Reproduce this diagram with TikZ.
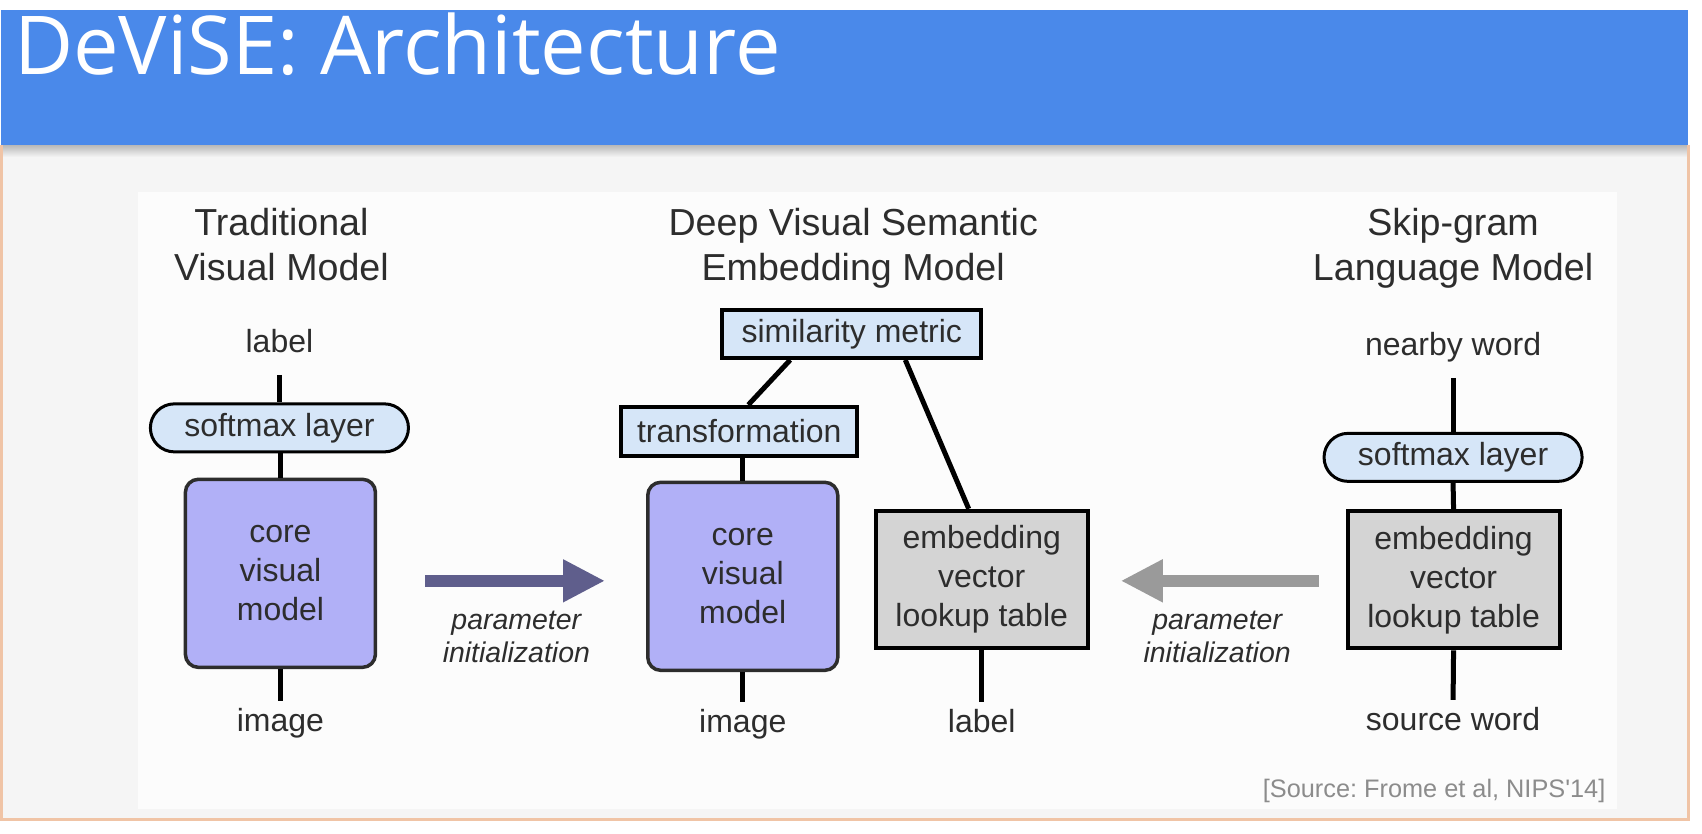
\documentclass[tikz,border=0pt]{standalone}
\usepackage{fontspec}
\setmainfont{Liberation Sans}
\newfontfamily\slidefont{Open Sans}
\usetikzlibrary{positioning, calc, arrows.meta}

\definecolor{barblue}{RGB}{74,137,234}
\definecolor{pageframe}{RGB}{240,196,166}
\definecolor{slidegray}{RGB}{245,245,245}
\definecolor{figwhite}{RGB}{252,252,252}
\definecolor{ink}{RGB}{45,45,45}
\definecolor{softblue}{RGB}{214,230,248}
\definecolor{corepurple}{RGB}{177,176,247}
\definecolor{tablegray}{RGB}{212,212,212}
\definecolor{initpurple}{RGB}{95,94,140}
\definecolor{initgray}{RGB}{154,154,154}

\newcommand{\nodesize}{\fontsize{9.1}{11.1}\selectfont}
\newcommand{\headsize}{\fontsize{10.7}{12.8}\selectfont}
\newcommand{\initsize}{\fontsize{8.1}{9.4}\selectfont\itshape}

\frenchspacing
\begin{document}
\begin{tikzpicture}[
      x=0.01cm, y=-0.01cm,
      heading/.style={
        font=\headsize,
        text=ink,
        align=center,
        inner sep=0pt,
        text depth=0pt,
      },
      box/.style={
        rectangle,
        draw=black,
        line width=0.04cm,
        font=\nodesize,
        text=ink,
        inner sep=0pt,
      },
      softmax/.style={
        box,
        fill=softblue,
        line width=0.03cm,
        rounded corners=0.24cm,
        minimum width=2.58cm,
        minimum height=0.48cm,
      },
      metric/.style={
        box,
        fill=softblue,
      },
      core/.style={
        box,
        fill=corepurple,
        draw=ink,
        line width=0.035cm,
        rounded corners=0.13cm,
        minimum width=1.9cm,
        minimum height=1.88cm,
        align=center,
      },
      lookup/.style={
        box,
        fill=tablegray,
        minimum width=2.12cm,
        minimum height=1.37cm,
        align=center,
      },
      term/.style={
        font=\nodesize,
        text=ink,
        inner sep=0pt,
        text height=0.23cm,
        text depth=0pt,
      },
      output/.style={
        term,
        outer ysep=0.22cm,
      },
      input/.style={
        term,
        outer ysep=0.08cm,
      },
      link/.style={
        line width=0.05cm,
      },
      init/.style={
        line width=0.12cm,
        -{Triangle[length=0.42cm, width=0.40cm]},
      },
      initnote/.style={
        font=\initsize,
        text=ink,
        align=center,
        inner sep=0pt,
        text depth=0pt,
      },
    ]
    % slide
    \fill[white] (0,0) rectangle (1702,834);
    \fill[slidegray] (0,145) rectangle (1688,820);
    \fill[figwhite] (138,192) rectangle (1617,809);
    \shade[top color=black!28, bottom color=slidegray] (2,145) rectangle (1687,157);
    \draw[pageframe, line width=0.03cm] (1,145) -- (1,820) -- (1688,820) -- (1688,145);
    \fill[barblue] (0,10) rectangle (1688,145);
    \node[font=\slidefont\fontsize{23.1}{27}\selectfont, text=white, inner sep=0pt, anchor=base west] (slide-title) at (13,75) {DeViSE: Architecture};

    \node[heading] (tvm-head) at (281,244) {Traditional\\Visual Model};
    \node[heading] (devise-head) at (853,244) {Deep Visual Semantic\\Embedding Model};
    \node[heading] (skip-head) at (1453,244) {Skip-gram\\Language Model};

    % traditional visual model
    \node[output, anchor=base] (label-l) at (279,353) {label};
    \node[softmax] (softmax-l) at (279,428) {softmax layer};
    \node[core] (core-l) at (280,573.5) {core\\visual\\model};
    \node[input, anchor=base] (image-l) at (280,732) {image};
    \draw[link] (label-l.south) -- (softmax-l.north);
    \draw[link] (core-l.north |- softmax-l.south) -- (core-l.north);
    \draw[link] (core-l.south) -- (image-l.north);

    % deep visual semantic embedding model
    \node[metric, minimum width=2.59cm, minimum height=0.48cm] (sim) at (851.5,334) {similarity metric};
    \node[metric, minimum width=2.36cm, minimum height=0.49cm] (trans) at (739,431.5) {transformation};
    \node[core] (core-m) at (742.5,576.5) {core\\visual\\model};
    \node[lookup] (emb-m) at (981.5,579.5) {embedding\\vector\\lookup table};
    \node[input, anchor=base] (image-m) at (742.5,733) {image};
    \node[input, anchor=base] (label-m) at (981.5,733) {label};
    \draw[link] ([xshift=0.7cm]sim.south west) -- ([xshift=0.09cm]trans.north);
    \draw[link] ([xshift=-0.78cm]sim.south east) -- ([xshift=-0.13cm]emb-m.north);
    \draw[link] (core-m.north |- trans.south) -- (core-m.north);
    \draw[link] (core-m.south) -- (image-m.north);
    \draw[link] (emb-m.south) -- (label-m.north);

    % skip-gram language model
    \node[output, anchor=base] (nearby) at (1453,356) {nearby word};
    \node[softmax] (softmax-r) at (1453,457.5) {softmax layer};
    \node[lookup] (emb-r) at (1453.5,580) {embedding\\vector\\lookup table};
    \node[input, anchor=base] (source-word) at (1453,731) {source word};
    \draw[link] (nearby.south) -- (softmax-r.north);
    \draw[link] (softmax-r.south) -- (emb-r.north);
    \draw[link] (emb-r.south) -- (source-word.north);

    % parameter initialization
    \draw[init, initpurple] ($(core-l.east)+(48,7.5)$) coordinate (init-l) -- ($(core-m.west |- init-l)+(-41,0)$);
    \draw[init, initgray] ($(emb-r.west)+(-27,1)$) coordinate (init-r) -- ($(emb-m.east |- init-r)+(31,0)$);
    \node[initnote] (init-l-note) at (516,637) {parameter\\initialization};
    \node[initnote] (init-r-note) at (1217,637) {parameter\\initialization};

    \node[font=\fontsize{7.2}{8.6}\selectfont, text=black!45, inner sep=0pt, anchor=base east] (source) at (1606,798) {[Source: Frome et al, NIPS\textquotesingle14]};
  \end{tikzpicture}
\end{document}
